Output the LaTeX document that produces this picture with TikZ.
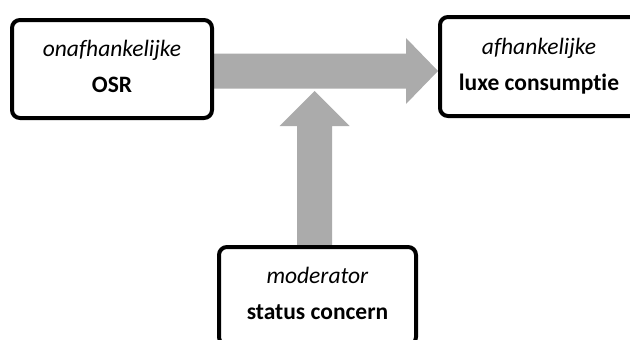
\documentclass[tikz,border=0pt]{standalone}
\usepackage{fontspec}
\setmainfont{Carlito}[Ligatures=NoCommon]
\usetikzlibrary{backgrounds}
\definecolor{arrowgray}{RGB}{171,171,171}
\tikzset{
  varbox/.style={draw=black, line width=4pt, rounded corners=8pt, fill=white,
    align=center, inner sep=0pt, text height=52pt, text depth=4.5pt,
    font=\fontsize{23.5}{36}\selectfont},
  fatarrow/.style={fill=arrowgray, draw=none}
}
\begin{document}
\begin{tikzpicture}[x=1pt, y=-1pt]
\clip (0,0) rectangle (630,340);
\node[varbox, minimum width=200pt, minimum height=98pt] (osr) at (112,69)
  {\textit{onafhankelijke}\\\textbf{OSR}};
\node[varbox, minimum width=198pt, minimum height=99pt] (lux) at (539,66.5)
  {\textit{afhankelijke}\\\textbf{luxe consumptie}};
\node[varbox, minimum width=197pt, minimum height=98pt] (mod) at (317.5,296)
  {\textit{moderator}\\\textbf{status concern}};
% helper coordinates for the arrow outlines
\coordinate (hy) at (0,71);
\coordinate (vx) at (314.5,0);
\begin{scope}[on background layer]
  % horizontal arrow OSR -> luxe consumptie
  \fill[fatarrow] (osr.east |- hy) ++(0,-17.5) -- (406,53.5) -- (406,38)
    -- (lux.west |- hy) -- (406,104) -- (406,88.5) -- ([yshift=-17.5pt]osr.east |- hy) -- cycle;
  % vertical arrow status concern -> main arrow
  \fill[fatarrow] ([xshift=-17.5pt]vx |- mod.north) -- (297,126) -- (279.5,126)
    -- (314.5,91) -- (349.5,126) -- (332,126) -- ([xshift=17.5pt]vx |- mod.north) -- cycle;
\end{scope}
\end{tikzpicture}
\end{document}
